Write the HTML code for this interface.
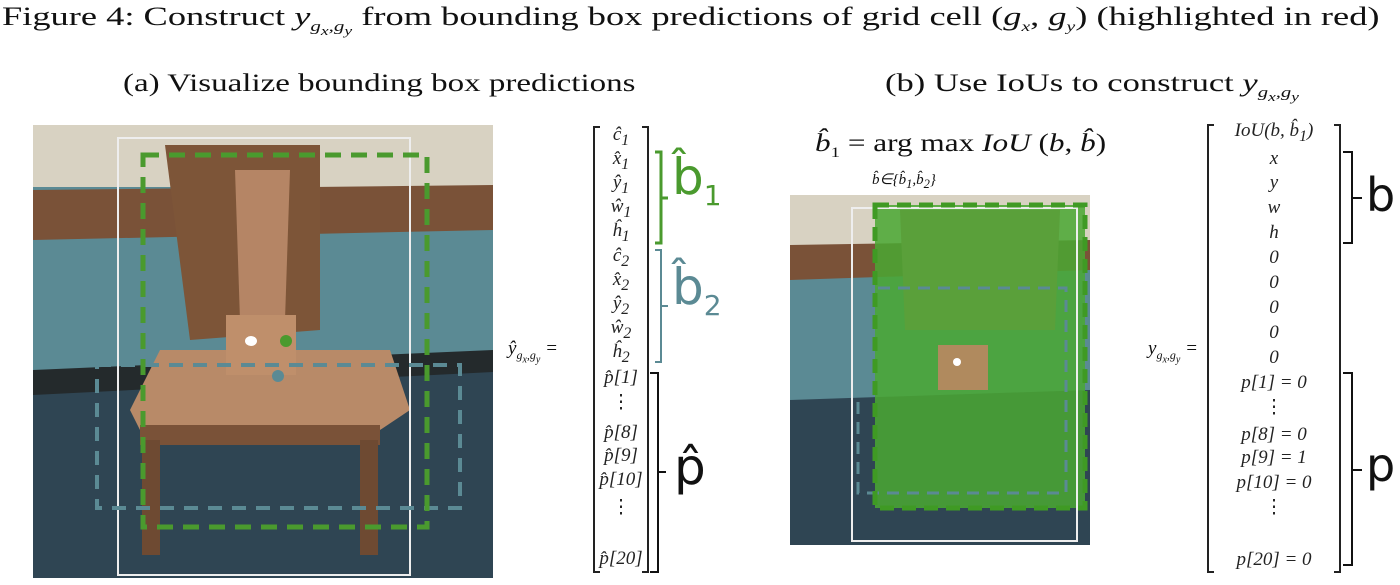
<!DOCTYPE html>
<html><head><meta charset="utf-8"><style>
body{margin:0;background:#fff;width:1400px;height:585px;overflow:hidden;position:relative;font-family:"Liberation Serif",serif;}
.t{position:absolute;white-space:nowrap;color:#111;transform-origin:0 0;}
.m{position:absolute;font-family:"Liberation Serif",serif;font-style:italic;font-size:19px;text-align:center;width:140px;color:#222;}
</style></head><body>
<div class="t" style="left:2px;top:2px;font-size:26px;transform:scaleX(1.4);">Figure 4: Construct <i>y</i><sub style="font-size:15px"><i>g<sub>x</sub>,g<sub>y</sub></i></sub> from bounding box predictions of grid cell (<i>g<sub style="font-size:14px">x</sub></i>, <i>g<sub style="font-size:14px">y</sub></i>) (highlighted in red)</div>
<div class="t" style="left:123px;top:70px;font-size:25px;transform:scaleX(1.32);">(a) Visualize bounding box predictions</div>
<div class="t" style="left:885px;top:70px;font-size:25px;transform:scaleX(1.38);">(b) Use IoUs to construct <i>y</i><sub style="font-size:15px"><i>g<sub>x</sub>,g<sub>y</sub></i></sub></div>

<svg width="1400" height="585" style="position:absolute;left:0;top:0">
 <g>
  <rect x="33" y="125" width="460" height="453" fill="#5b8a94"/>
  <rect x="33" y="125" width="460" height="62" fill="#d8d2c2"/>
  <polygon points="33,190 493,185 493,230 33,240" fill="#7a5238"/>
  <polygon points="33,380 493,355 493,578 33,578" fill="#2f4553"/>
  <polygon points="33,370 493,350 493,372 33,395" fill="#242a2c"/>
  <polygon points="165,145 320,145 320,330 190,340" fill="#7d5538"/>
  <polygon points="235,170 290,170 285,320 240,320" fill="#b58565"/>
  <polygon points="130,410 160,350 390,350 410,410 380,430 140,430" fill="#b88a68"/>
  <rect x="140" y="425" width="240" height="20" fill="#7a5238"/>
  <rect x="142" y="440" width="18" height="115" fill="#6e4a32"/>
  <rect x="360" y="440" width="18" height="115" fill="#6e4a32"/>
  <rect x="226" y="315" width="70" height="60" fill="#bf8f6b"/>
  <ellipse cx="251" cy="341" rx="6" ry="5" fill="#fff"/>
  <circle cx="286" cy="341" r="6" fill="#4a9a2e"/>
  <circle cx="278" cy="376" r="6" fill="#5b8a94"/>
  <rect x="118" y="138" width="292" height="437" fill="none" stroke="#eee" stroke-width="2"/>
  <rect x="97" y="365" width="363" height="143" fill="none" stroke="#5b8a94" stroke-width="4" stroke-dasharray="14,10"/>
  <rect x="143" y="155" width="284" height="372" fill="none" stroke="#4a9a2e" stroke-width="5" stroke-dasharray="16,10"/>
 </g>
 <g>
  <rect x="790" y="195" width="300" height="350" fill="#5b8a94"/>
  <rect x="790" y="195" width="300" height="50" fill="#d8d2c2"/>
  <polygon points="790,245 1090,240 1090,270 790,280" fill="#7a5238"/>
  <polygon points="790,400 1090,390 1090,545 790,545" fill="#2f4553"/>
  <rect x="875" y="205" width="210" height="303" fill="#4aa832" opacity="0.85"/>
  <polygon points="900,210 1060,210 1055,330 905,330" fill="#5aa03a"/>
  <rect x="938" y="345" width="50" height="45" fill="#b08a5e"/>
  <circle cx="957" cy="362" r="4" fill="#fff"/>
  <rect x="852" y="208" width="225" height="333" fill="none" stroke="#eee" stroke-width="2"/>
  <rect x="858" y="288" width="208" height="205" fill="none" stroke="#5b8a94" stroke-width="3" stroke-dasharray="12,8"/>
  <rect x="875" y="205" width="210" height="303" fill="none" stroke="#3f9a24" stroke-width="5" stroke-dasharray="14,8"/>
 </g>
 <g stroke="#222" stroke-width="2" fill="none">
  <path d="M600,127 H594 V572 H600"/><path d="M642,127 H648 V572 H642"/>
 </g>
 <g stroke="#222" stroke-width="2" fill="none">
  <path d="M1214,125 H1208 V572 H1214"/><path d="M1334,125 H1340 V572 H1334"/>
 </g>
 <path d="M655,152 H661 V243 H655 M661,198 H668" stroke="#4a9a2e" stroke-width="3" fill="none"/>
 <path d="M655,250 H661 V362 H655 M661,306 H668" stroke="#5b8a94" stroke-width="2" fill="none"/>
 <path d="M650,373 H658 V572 H650 M658,472 H666" stroke="#111" stroke-width="2" fill="none"/>
 <path d="M1343,152 H1352 V243 H1343 M1352,198 H1362" stroke="#111" stroke-width="2" fill="none"/>
 <path d="M1343,373 H1352 V565 H1343 M1352,470 H1362" stroke="#111" stroke-width="2" fill="none"/>
</svg>

<div class="t" style="left:508px;top:338px;font-size:19px;font-style:italic;">ŷ<sub style="font-size:12px">g<sub>x</sub>,g<sub>y</sub></sub> =</div>
<div class="t" style="left:1148px;top:338px;font-size:19px;font-style:italic;">y<sub style="font-size:12px">g<sub>x</sub>,g<sub>y</sub></sub> =</div>
<div class="t" style="left:815px;top:130px;font-size:25px;transform:scaleX(1.25);"><i>b̂</i><sub style="font-size:15px">1</sub> = arg max <i>IoU</i> (<i>b</i>, <i>b̂</i>)</div>
<div class="t" style="left:872px;top:170px;font-size:15px;font-style:italic;">b̂∈{b̂<sub>1</sub>,b̂<sub>2</sub>}</div>

<div class="t" style="left:672px;top:148px;font-size:50px;color:#4a9a2e;font-family:'DejaVu Sans',sans-serif;">b̂<sub style="font-size:28px">1</sub></div>
<div class="t" style="left:672px;top:258px;font-size:50px;color:#5b8a94;font-family:'DejaVu Sans',sans-serif;">b̂<sub style="font-size:28px">2</sub></div>
<div class="t" style="left:674px;top:438px;font-size:50px;color:#111;font-family:'DejaVu Sans',sans-serif;">p̂</div>
<div class="t" style="left:1366px;top:168px;font-size:46px;color:#111;font-family:'DejaVu Sans',sans-serif;">b</div>
<div class="t" style="left:1366px;top:438px;font-size:46px;color:#111;font-family:'DejaVu Sans',sans-serif;">p</div>

<script>
const rowsA=['ĉ<sub>1</sub>','x̂<sub>1</sub>','ŷ<sub>1</sub>','ŵ<sub>1</sub>','ĥ<sub>1</sub>','ĉ<sub>2</sub>','x̂<sub>2</sub>','ŷ<sub>2</sub>','ŵ<sub>2</sub>','ĥ<sub>2</sub>','p̂[1]','⋮','p̂[8]','p̂[9]','p̂[10]','⋮','p̂[20]'];
const rowsB=['IoU(b, b̂<sub>1</sub>)','x','y','w','h','0','0','0','0','0','p[1] = 0','⋮','p[8] = 0','p[9] = 1','p[10] = 0','⋮','p[20] = 0'];
const ysA=[124,148,172,196,220,245,269,293,317,341,367,391,422,445,469,496,548];
const ysB=[120,148,172,197,222,247,272,297,322,347,372,396,424,447,472,496,549];
function fill(rows,ys,cx,name){rows.forEach((r,i)=>{const d=document.createElement('div');d.className='m';


d.style.left=(cx-70)+'px';d.style.top=ys[i]+'px';d.innerHTML=r;if(r==='⋮')d.style.fontStyle='normal';document.body.appendChild(d);});}
fill(rowsA,ysA,621,'matrix-a-entry');
fill(rowsB,ysB,1274,'matrix-b-entry');
</script>
</body></html>
